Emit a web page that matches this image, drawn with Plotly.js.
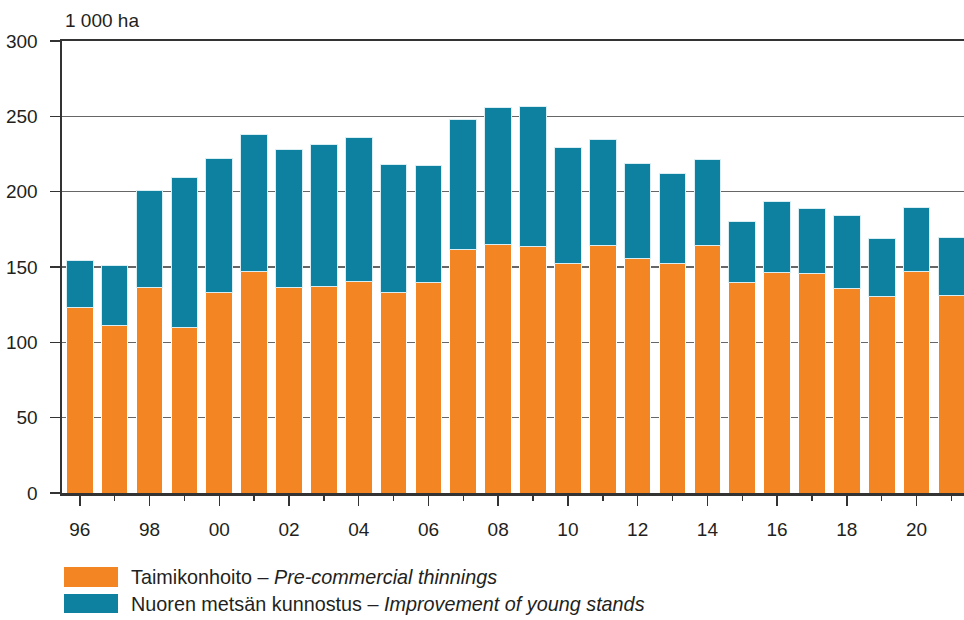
<!DOCTYPE html>
<html>
<head>
<meta charset="utf-8">
<script src="https://cdn.plot.ly/plotly-3.0.1.min.js"></script>
<style>
html,body{margin:0;padding:0;background:#fff;}
#chart{width:964px;height:620px;}
</style>
</head>
<body>
<div id="chart"></div>
<script>
// Years and values (1 000 ha)
const years = [1996,1997,1998,1999,2000,2001,2002,2003,2004,2005,2006,2007,2008,2009,2010,2011,2012,2013,2014,2015,2016,2017,2018,2019,2020,2021];
const preCommercial = [122.9,111.5,136.6,110.1,132.9,146.8,136.2,137.0,140.6,133.3,139.9,161.7,165.0,163.3,152.6,164.5,155.4,152.1,164.4,139.7,146.4,145.7,135.8,130.2,147.2,131.3];
const youngStands = [31.1,39.2,64.1,99.6,89.4,91.3,91.6,94.5,95.6,84.8,77.3,86.0,91.0,93.2,76.5,69.9,63.1,60.2,56.8,40.4,47.0,43.0,48.3,38.7,42.6,38.2];
const xTickVals = [1996,1998,2000,2002,2004,2006,2008,2010,2012,2014,2016,2018,2020];
const xTickText = ["96","98","00","02","04","06","08","10","12","14","16","18","20"];
const yTickVals = [0,50,100,150,200,250,300];

const orange = "#F38522";
const teal = "#0E81A0";
const txt = "#231F20";
const fontFam = "'Liberation Sans', Arial, sans-serif";
const fs = 19;
const legFs = 19.8;

const traces = [
  {type:"bar", x:years, y:preCommercial, name:"Taimikonhoito – Pre-commercial thinnings",
   marker:{color:orange, line:{color:"#FFFFFF", width:1}}, width:0.765, showlegend:false, hoverinfo:"x+y"},
  {type:"bar", x:years, y:youngStands, name:"Nuoren metsän kunnostus – Improvement of young stands",
   marker:{color:teal, line:{color:"#D8EEF3", width:1}}, width:0.765, showlegend:false, hoverinfo:"x+y"}
];

const layout = {
  width:964, height:620,
  margin:{l:62, r:0, t:41, b:127},
  paper_bgcolor:"#fff", plot_bgcolor:"#fff",
  barmode:"stack",
  font:{family:fontFam, size:fs, color:txt},
  xaxis:{
    range:[1995.49, 2021.36],
    tickmode:"array", tickvals:xTickVals, ticktext:xTickText,
    ticks:"outside", ticklen:10, tickwidth:1.5, tickcolor:"#333",
    minor:{dtick:1, tick0:1996, ticks:"outside", ticklen:5, tickwidth:1.5, tickcolor:"#333", showgrid:false},
    showline:true, linecolor:"#333", linewidth:2.5, mirror:true,
    showgrid:false, zeroline:false,
    ticklabelstandoff:8,
    tickfont:{family:fontFam, size:fs, color:txt}
  },
  yaxis:{
    range:[0,300], tickmode:"array", tickvals:yTickVals,
    ticks:"outside", ticklen:10, tickwidth:1.5, tickcolor:"#333",
    showline:true, linecolor:"#333", linewidth:2.5,
    showgrid:true, gridcolor:"#666", gridwidth:1.5,
    zeroline:false, ticklabelstandoff:8,
    tickfont:{family:fontFam, size:fs, color:txt}
  },
  shapes:[
    {type:"rect", xref:"paper", yref:"paper", x0:2/902, x1:56/902, y0:(493-567)/452, y1:(493-587)/452,
     fillcolor:orange, line:{width:0}},
    {type:"rect", xref:"paper", yref:"paper", x0:2/902, x1:56/902, y0:(493-594)/452, y1:(493-613)/452,
     fillcolor:teal, line:{width:0}}
  ],
  annotations:[
    {xref:"paper", yref:"paper", x:1/902, y:(493-20)/452, xanchor:"left", yanchor:"middle",
     text:"1 000 ha", showarrow:false, font:{family:fontFam, size:fs, color:txt}},
    {xref:"paper", yref:"paper", x:67/902, y:(493-577)/452, xanchor:"left", yanchor:"middle",
     text:"Taimikonhoito – <i>Pre-commercial thinnings</i>", showarrow:false, font:{family:fontFam, size:legFs, color:txt}},
    {xref:"paper", yref:"paper", x:67/902, y:(493-604)/452, xanchor:"left", yanchor:"middle",
     text:"Nuoren metsän kunnostus – <i>Improvement of young stands</i>", showarrow:false, font:{family:fontFam, size:legFs, color:txt}}
  ]
};

Plotly.newPlot("chart", traces, layout, {displayModeBar:false, staticPlot:true});
</script>
</body>
</html>
